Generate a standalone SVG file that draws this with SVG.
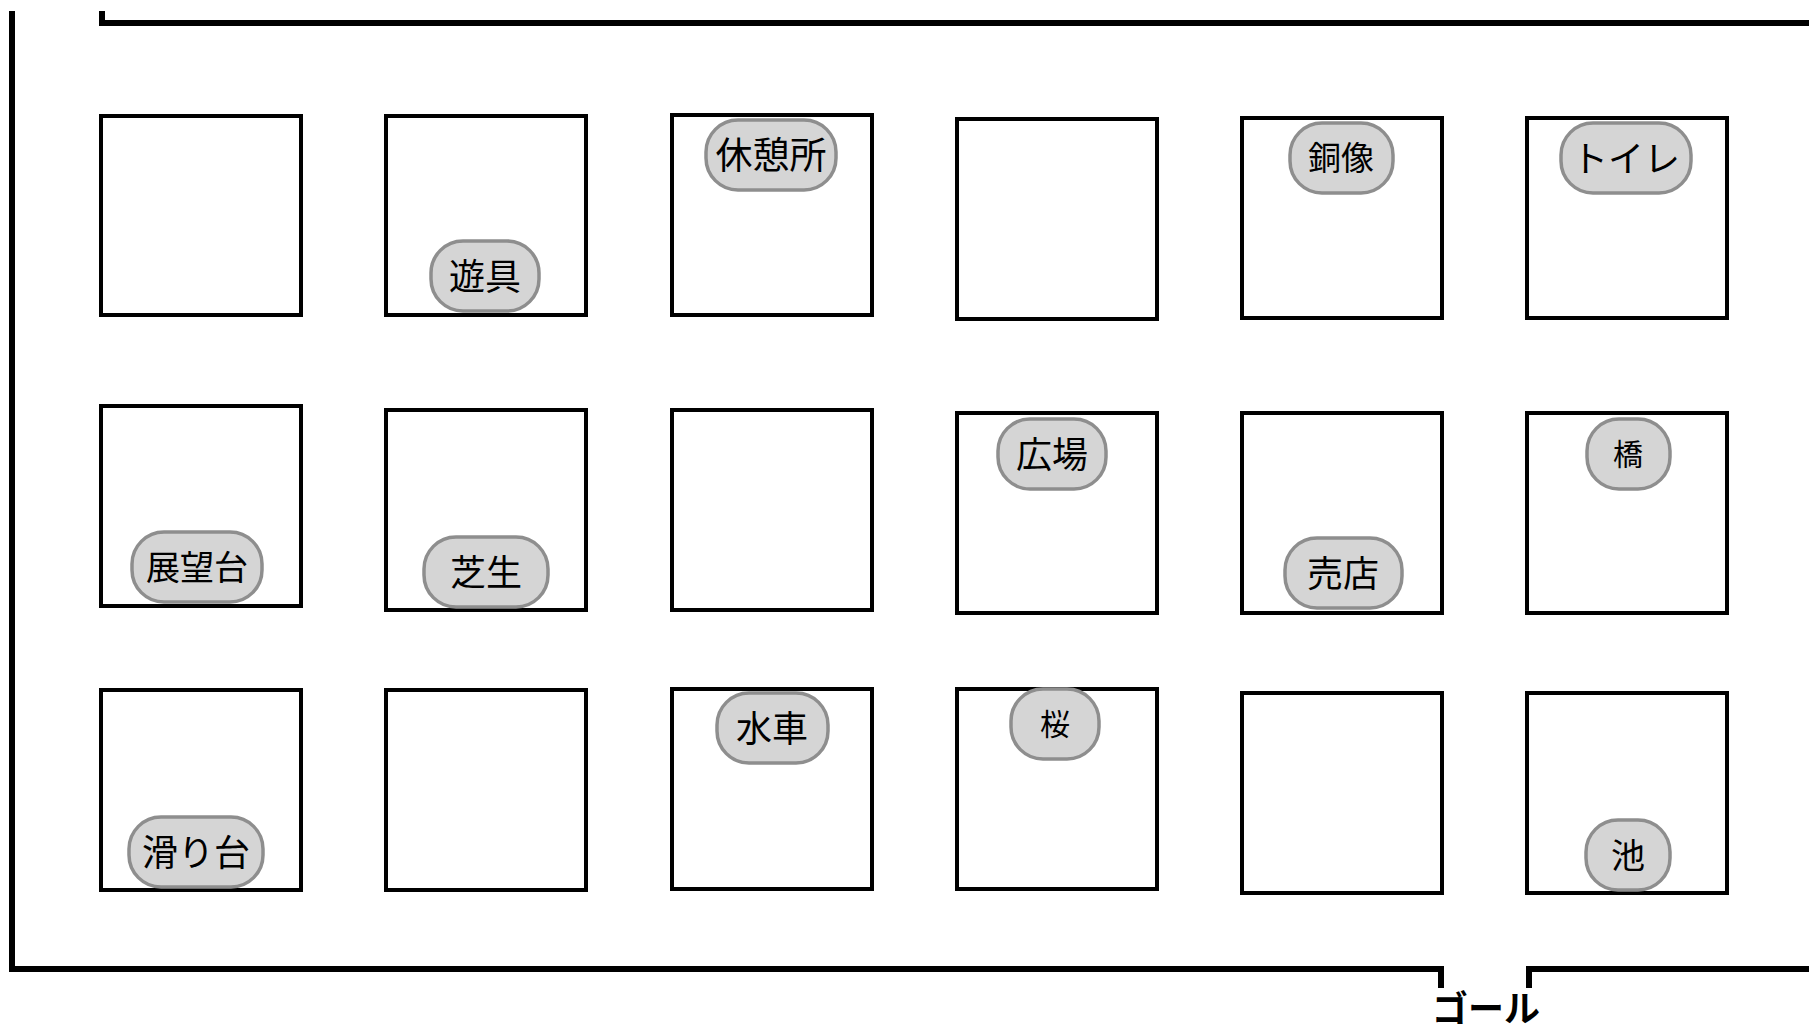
<svg xmlns="http://www.w3.org/2000/svg" width="1809" height="1032" viewBox="0 0 1809 1032">
<style>
.wall{fill:none;stroke:#000;stroke-width:6;stroke-linejoin:miter}
.blk{fill:#fff;stroke:#000;stroke-width:4}
.pill{fill:#d5d5d5;stroke:#8e8e8e;stroke-width:3.5}
.lbl{font-family:"Noto Sans CJK JP","Noto Sans CJK SC",sans-serif;fill:#000;text-anchor:middle;dominant-baseline:central}
.goal{font-family:"Noto Sans CJK JP","Noto Sans CJK SC",sans-serif;font-weight:bold;font-size:36px;fill:#000;text-anchor:middle}
</style>
<rect width="1809" height="1032" fill="#fff"/>
<g id="walls">
<path class="wall" d="M12 11 V972"/>
<path class="wall" d="M102 11 V23 H1812"/>
<path class="wall" d="M9 969 H1441 V988"/>
<path class="wall" d="M1529 988 V969 H1812"/>
</g>
<text id="goal" class="goal" x="1486" y="1022">ゴール</text>

<g id="b11"><rect class="blk" x="101" y="116" width="200" height="199"/></g>
<g id="b12"><rect class="blk" x="386" y="116" width="200" height="199"/>
<rect class="pill" x="431" y="241" width="108" height="70" rx="32"/><text class="lbl" x="485" y="274" font-size="36">遊具</text></g>
<g id="b13"><rect class="blk" x="672" y="115" width="200" height="200"/>
<rect class="pill" x="706" y="120" width="130" height="70" rx="32"/><text class="lbl" x="771" y="153" font-size="37">休憩所</text></g>
<g id="b14"><rect class="blk" x="957" y="119" width="200" height="200"/></g>
<g id="b15"><rect class="blk" x="1242" y="118" width="200" height="200"/>
<rect class="pill" x="1290" y="123" width="103" height="70" rx="32"/><text class="lbl" x="1341" y="156" font-size="33">銅像</text></g>
<g id="b16"><rect class="blk" x="1527" y="118" width="200" height="200"/>
<rect class="pill" x="1561" y="123" width="130" height="70" rx="32"/><text class="lbl" x="1626" y="156" font-size="36">トイレ</text></g>

<g id="b21"><rect class="blk" x="101" y="406" width="200" height="200"/>
<rect class="pill" x="132" y="532" width="130" height="70" rx="32"/><text class="lbl" x="197" y="565" font-size="34">展望台</text></g>
<g id="b22"><rect class="blk" x="386" y="410" width="200" height="200"/>
<rect class="pill" x="424" y="537" width="124" height="70" rx="32"/><text class="lbl" x="486" y="570" font-size="36">芝生</text></g>
<g id="b23"><rect class="blk" x="672" y="410" width="200" height="200"/></g>
<g id="b24"><rect class="blk" x="957" y="413" width="200" height="200"/>
<rect class="pill" x="998" y="419" width="108" height="70" rx="32"/><text class="lbl" x="1052" y="452" font-size="36">広場</text></g>
<g id="b25"><rect class="blk" x="1242" y="413" width="200" height="200"/>
<rect class="pill" x="1285" y="538" width="117" height="70" rx="32"/><text class="lbl" x="1343" y="571" font-size="36">売店</text></g>
<g id="b26"><rect class="blk" x="1527" y="413" width="200" height="200"/>
<rect class="pill" x="1587" y="419" width="83" height="70" rx="32"/><text class="lbl" x="1628" y="452" font-size="30">橋</text></g>

<g id="b31"><rect class="blk" x="101" y="690" width="200" height="200"/>
<rect class="pill" x="129" y="817" width="134" height="70" rx="32"/><text class="lbl" x="196" y="850" font-size="36">滑り台</text></g>
<g id="b32"><rect class="blk" x="386" y="690" width="200" height="200"/></g>
<g id="b33"><rect class="blk" x="672" y="689" width="200" height="200"/>
<rect class="pill" x="717" y="693" width="111" height="70" rx="32"/><text class="lbl" x="772" y="726" font-size="36">水車</text></g>
<g id="b34"><rect class="blk" x="957" y="689" width="200" height="200"/>
<rect class="pill" x="1011" y="689" width="88" height="70" rx="32"/><text class="lbl" x="1055" y="722" font-size="30">桜</text></g>
<g id="b35"><rect class="blk" x="1242" y="693" width="200" height="200"/></g>
<g id="b36"><rect class="blk" x="1527" y="693" width="200" height="200"/>
<rect class="pill" x="1586" y="820" width="84" height="70" rx="32"/><text class="lbl" x="1628" y="853" font-size="34">池</text></g>
</svg>
